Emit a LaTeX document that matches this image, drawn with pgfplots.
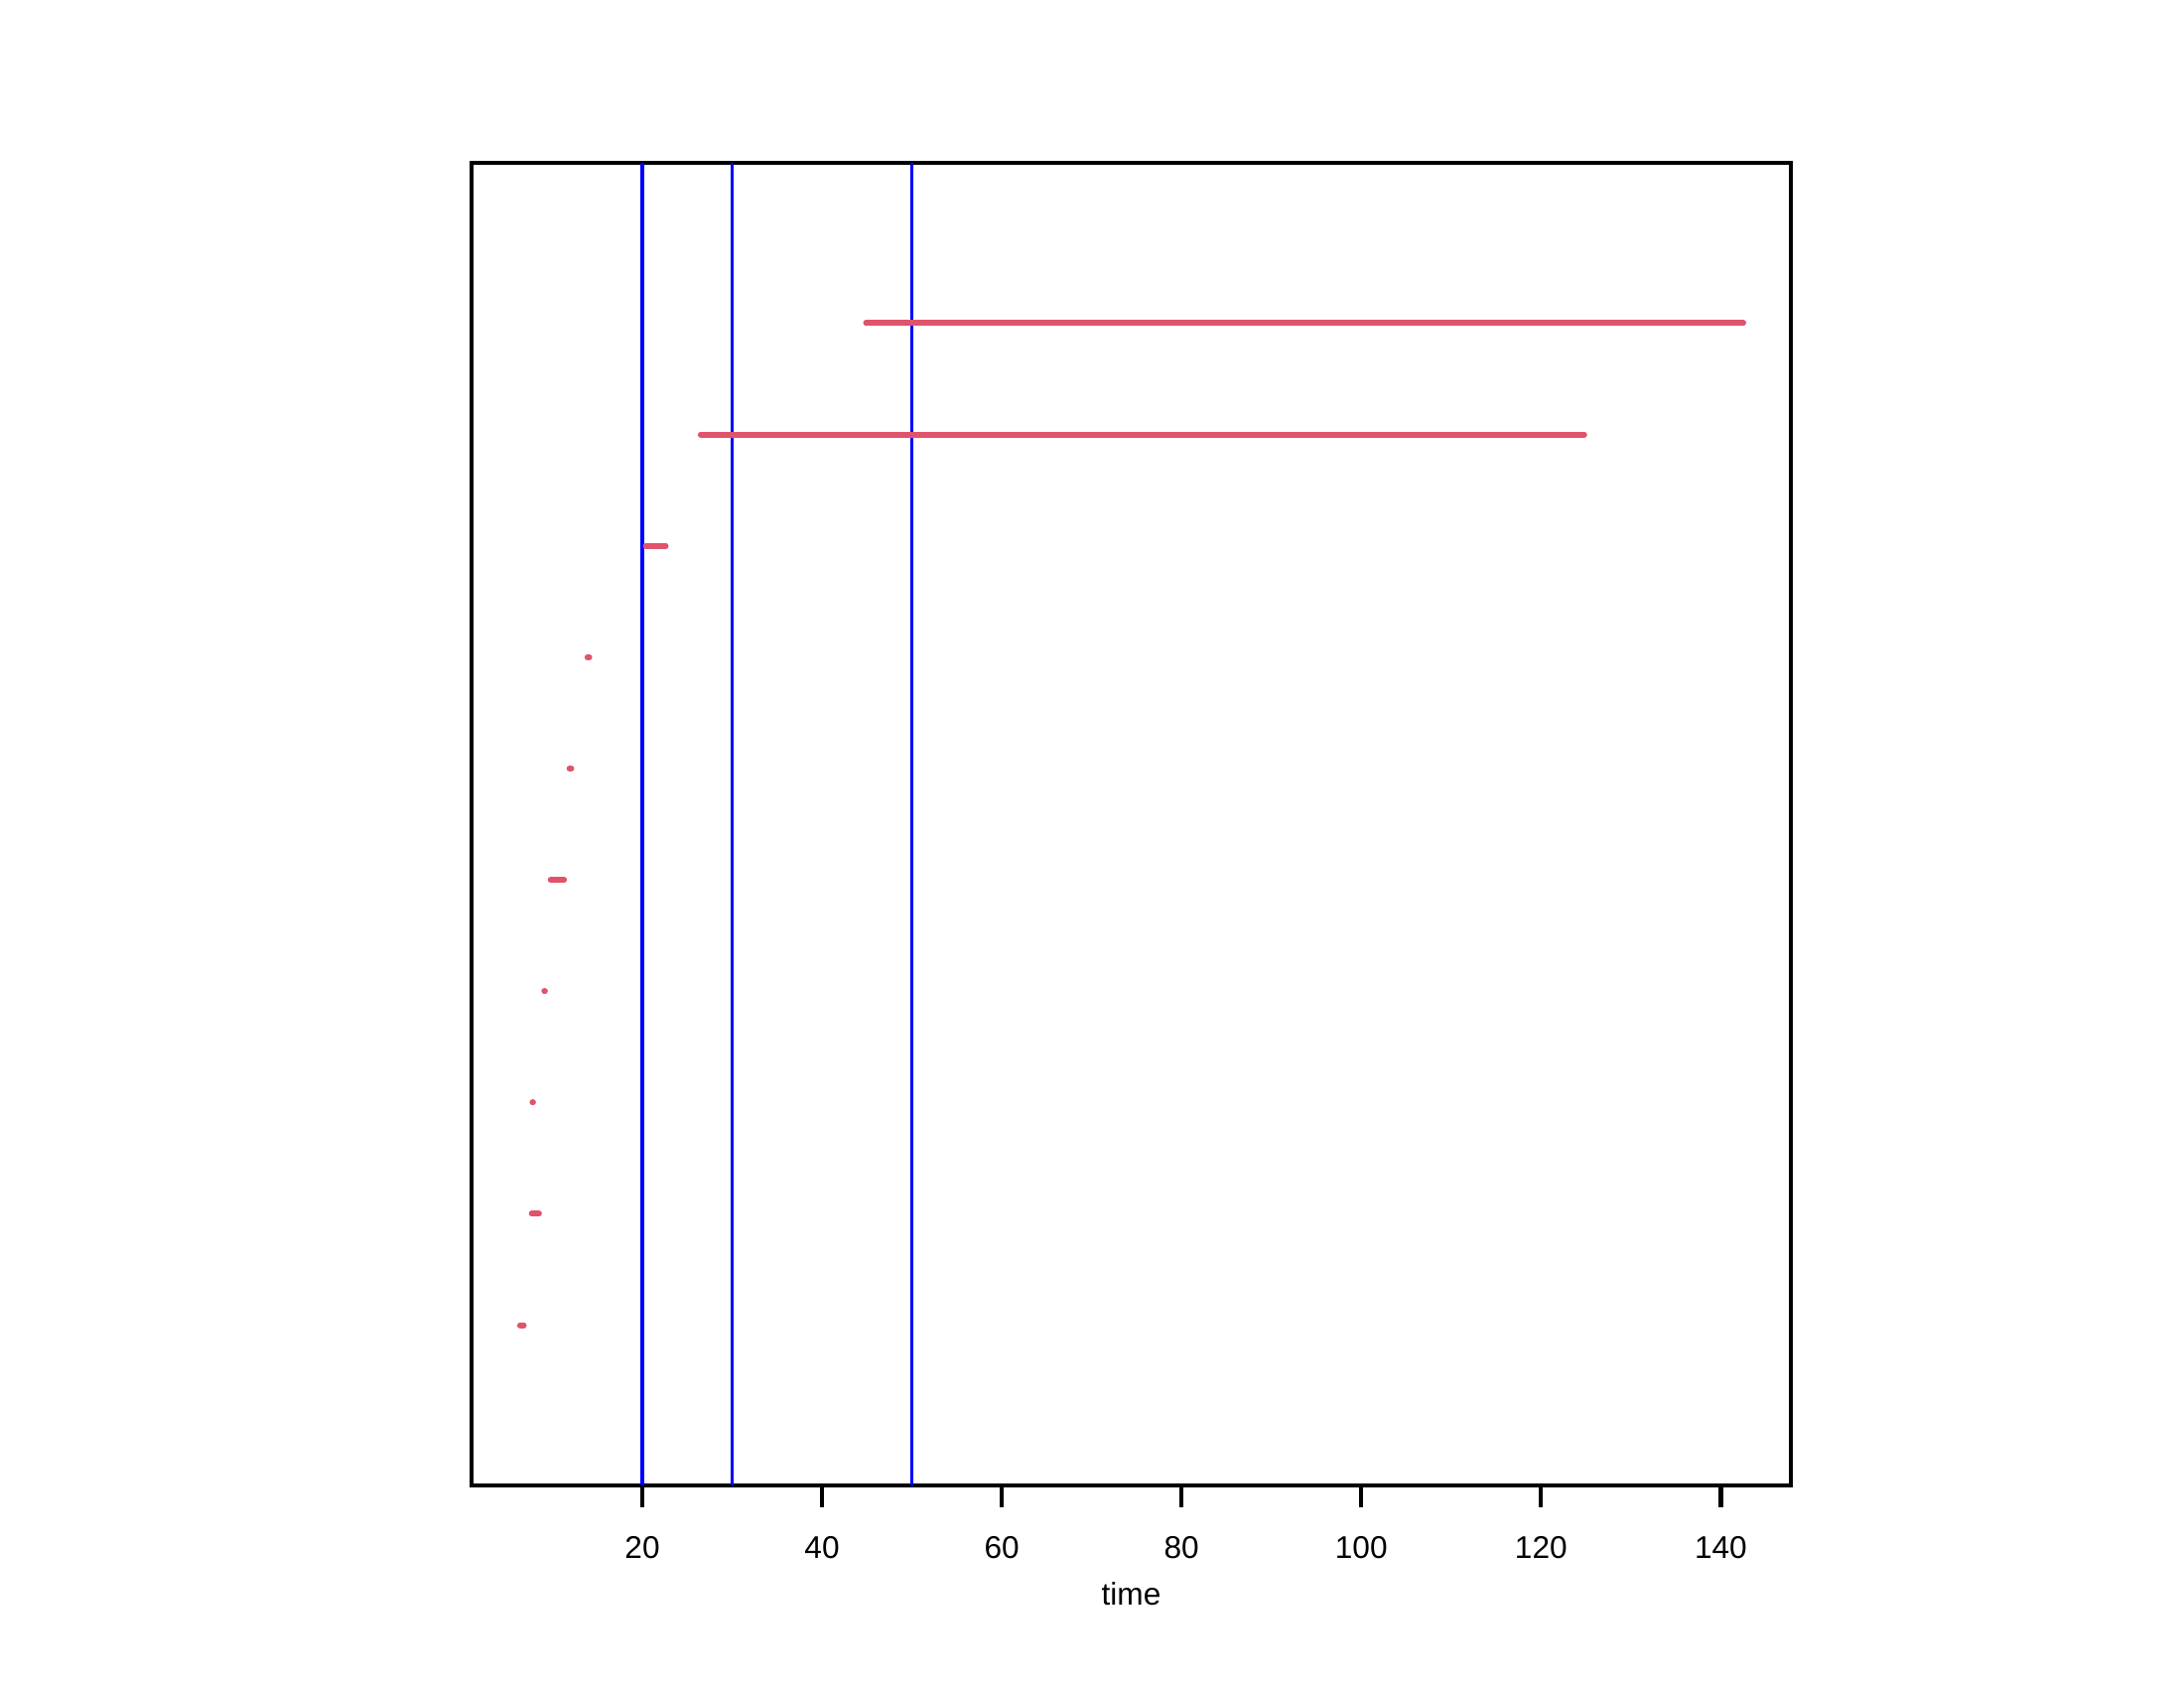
\documentclass[border=0pt]{standalone}
\usepackage{fontspec}
\setmainfont{Liberation Sans}
\usepackage{pgfplots}
\pgfplotsset{compat=1.18}
\definecolor{segred}{HTML}{DF536B}
\definecolor{cutblue}{HTML}{0000FF}
\begin{document}
\fontsize{9}{11}\selectfont
\begin{tikzpicture}
\path[use as bounding box] (0,0) rectangle (22,17);
\begin{axis}[
  at={(4.75cm,2.04cm)}, anchor=south west,
  width=13.29cm, height=13.32cm, scale only axis,
  xmin=1, xmax=147.8, ymin=-0.44, ymax=11.44,
  xtick={20,40,...,140}, ytick=\empty,
  xtick pos=bottom, tick align=outside,
  major tick length=0.22cm,
  axis line style={line width=1.2pt},
  every tick/.style={black, line width=1.2pt},
  /pgf/number format/assume math mode=true,
  xticklabel style={font=\fontsize{9}{11}\selectfont, anchor=north, inner sep=0pt},
  xticklabel shift=0.29cm,
  xlabel={time},
  xlabel style={font=\fontsize{9}{11}\selectfont, at={(axis description cs:0.5,0)}, anchor=center, inner sep=0pt, yshift=-1.09cm},
  unbounded coords=jump,
  clip=false,
]
% censoring times
\addplot[cutblue, line width=0.9pt] coordinates {
  (20,-0.44) (20,11.44) (nan,nan)
  (30,-0.44) (30,11.44) (nan,nan)
  (50,-0.44) (50,11.44)
};
% intervals
\addplot[segred, line width=1.7pt, line cap=round] coordinates {
  (6.4,1) (6.8,1) (nan,nan)
  (7.7,2) (8.5,2) (nan,nan)
  (7.78,3) (7.84,3) (nan,nan)
  (9.1,4) (9.16,4) (nan,nan)
  (9.8,5) (11.3,5) (nan,nan)
  (11.9,6) (12.1,6) (nan,nan)
  (13.9,7) (14.1,7) (nan,nan)
  (20.4,8) (22.6,8) (nan,nan)
  (26.5,9) (124.8,9) (nan,nan)
  (44.9,10) (142.5,10)
};
\end{axis}
\end{tikzpicture}
\end{document}
